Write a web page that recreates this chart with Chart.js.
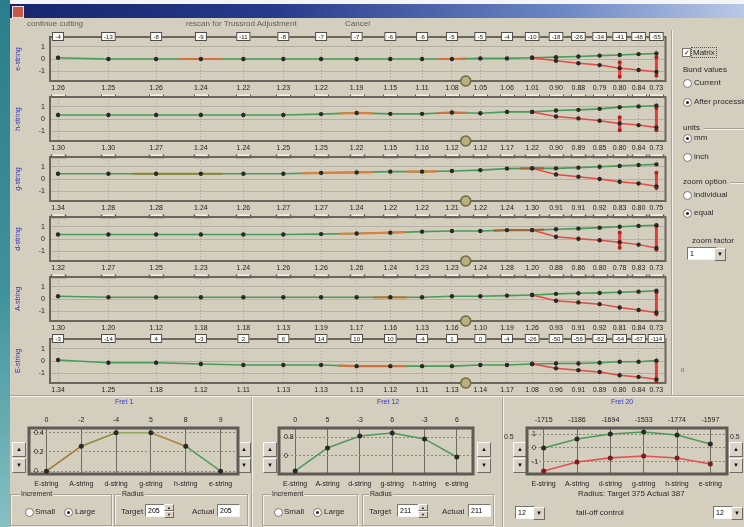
<!DOCTYPE html>
<html>
<head>
<meta charset="utf-8">
<script src="https://cdn.jsdelivr.net/npm/chart.js"></script>
<style>
  body { margin: 0; width: 744px; height: 527px; overflow: hidden; position: relative; background: #d4cebf; font-family: "Liberation Sans", Arial, sans-serif; filter: blur(0.35px); }
  canvas { position: absolute; }
  .t { position: absolute; font-size: 8px; line-height: 9px; color: #2a2a2a; white-space: nowrap; }
  .gris { color: #5e5c56; }
  .azul { color: #3636c8; font-size: 7px; }
  .radio { position: absolute; width: 7px; height: 7px; border-radius: 50%; background: #fff; border: 1px solid #7a766c; }
  .radio.on::after { content: ""; position: absolute; left: 2px; top: 2px; width: 3px; height: 3px; border-radius: 50%; background: #222; }
  .check { position: absolute; width: 7px; height: 7px; background: #fff; border: 1px solid #7a766c; font-size: 7px; line-height: 7px; text-align: center; color: #111; }
  .btn { position: absolute; width: 12px; height: 13px; background: #d9d4c7; border: 1px solid; border-color: #fbfaf6 #6e6a60 #6e6a60 #fbfaf6; font-size: 6px; line-height: 13px; text-align: center; color: #111; }
  .caja { position: absolute; height: 11px; background: #fff; border: 1px solid; border-color: #7a766c #f5f3ee #f5f3ee #7a766c; font-size: 7px; line-height: 11px; padding-left: 2px; box-sizing: content-box; }
  .grupo { position: absolute; border: 1px solid #a7a295; box-shadow: 1px 1px 0 #f4f1ea inset, 1px 1px 0 #f4f1ea; }
  .leyenda { position: absolute; font-size: 7px; line-height: 8px; background: #d4cebf; padding: 0 1px; color: #2a2a2a; }
  .hl { position: absolute; height: 0; border-top: 1px solid #a7a295; border-bottom: 1px solid #f4f1ea; }
  .vl { position: absolute; width: 0; border-left: 1px solid #a7a295; border-right: 1px solid #f4f1ea; }
</style>
</head>
<body>
<!-- marco de ventana -->
<div style="position:absolute;left:0;top:0;width:10px;height:527px;background:linear-gradient(#2a7d8a,#3f929c 55%,#86c0c3)"></div>
<div style="position:absolute;left:10px;top:0;width:734px;height:4px;background:#f3f5f9"></div>
<div style="position:absolute;left:10px;top:4px;width:734px;height:14px;background:linear-gradient(90deg,#16256c,#27398a 35%,#6c86c4 75%,#b9c8e6)"></div>
<div style="position:absolute;left:12px;top:6px;width:10px;height:10px;background:#c8584a;border:1px solid #f0e0d8"></div>

<div class="t gris" style="left:27px;top:19px">continue cutting</div>
<div class="t gris" style="left:186px;top:19px">rescan for Trussrod Adjustment</div>
<div class="t gris" style="left:345px;top:19px">Cancel</div>

<!-- panel derecho -->
<div class="vl" style="left:671px;top:30px;height:365px"></div>
<div class="check" style="left:682px;top:48px">✓</div>
<div class="t" style="left:691px;top:47px;border:1px dotted #555;padding:0 1px">Matrix</div>
<div class="t" style="left:683px;top:65px">Bund values</div>
<div class="radio" style="left:683px;top:79px"></div><div class="t" style="left:694px;top:78px">Current</div>
<div class="radio on" style="left:683px;top:98px"></div><div class="t" style="left:694px;top:97px">After processing</div>
<div class="t" style="left:683px;top:123px">units</div><div class="hl" style="left:704px;top:128px;width:40px"></div>
<div class="radio on" style="left:683px;top:134px"></div><div class="t" style="left:694px;top:133px">mm</div>
<div class="radio" style="left:683px;top:153px"></div><div class="t" style="left:694px;top:152px">inch</div>
<div class="t" style="left:683px;top:177px">zoom option</div><div class="hl" style="left:730px;top:182px;width:14px"></div>
<div class="radio" style="left:683px;top:191px"></div><div class="t" style="left:694px;top:190px">individual</div>
<div class="radio on" style="left:683px;top:209px"></div><div class="t" style="left:694px;top:208px">equal</div>
<div class="t" style="left:692px;top:236px">zoom factor</div>
<div class="caja" style="left:687px;top:247px;width:26px">1</div>
<div class="btn" style="left:714px;top:248px;width:10px;height:11px;line-height:11px">▼</div>
<div class="t gris" style="left:681px;top:366px;font-size:6px">0</div>

<!-- zona inferior -->
<div class="hl" style="left:10px;top:395px;width:734px"></div>
<div class="vl" style="left:251px;top:397px;height:130px"></div>
<div class="vl" style="left:502px;top:397px;height:130px"></div>

<div class="t azul" style="left:115px;top:397px">Fret 1</div>
<div class="t azul" style="left:377px;top:397px">Fret 12</div>
<div class="t azul" style="left:611px;top:397px">Fret 20</div>

<div class="btn" style="left:12px;top:442px">▲</div><div class="btn" style="left:12px;top:458px">▼</div>
<div class="btn" style="left:237px;top:442px">▲</div><div class="btn" style="left:237px;top:458px">▼</div>
<div class="btn" style="left:263px;top:442px">▲</div><div class="btn" style="left:263px;top:458px">▼</div>
<div class="btn" style="left:477px;top:442px">▲</div><div class="btn" style="left:477px;top:458px">▼</div>
<div class="btn" style="left:513px;top:442px">▲</div><div class="btn" style="left:513px;top:458px">▼</div>
<div class="btn" style="left:729px;top:442px">▲</div><div class="btn" style="left:729px;top:458px">▼</div>
<div class="t" style="left:504px;top:432px;font-size:7px">0.5</div>
<div class="t" style="left:730px;top:432px;font-size:7px">0.5</div>

<div class="grupo" style="left:10px;top:494px;width:100px;height:30px"></div>
<div class="leyenda" style="left:20px;top:490px">Increment</div>
<div class="radio" style="left:25px;top:508px"></div><div class="t" style="left:35px;top:507px">Small</div>
<div class="radio on" style="left:64px;top:508px"></div><div class="t" style="left:75px;top:507px">Large</div>
<div class="grupo" style="left:114px;top:494px;width:132px;height:30px"></div>
<div class="leyenda" style="left:121px;top:490px">Radius</div>
<div class="t" style="left:121px;top:507px">Target</div>
<div class="caja" style="left:145px;top:504px;width:16px">205</div>
<div class="btn" style="left:164px;top:504px;width:8px;height:5px;line-height:5px;font-size:4px">▲</div>
<div class="btn" style="left:164px;top:511px;width:8px;height:5px;line-height:5px;font-size:4px">▼</div>
<div class="t" style="left:192px;top:507px">Actual</div>
<div class="caja" style="left:217px;top:504px;width:19px">205</div>

<div class="grupo" style="left:262px;top:494px;width:94px;height:30px"></div>
<div class="leyenda" style="left:271px;top:490px">Increment</div>
<div class="radio" style="left:274px;top:508px"></div><div class="t" style="left:284px;top:507px">Small</div>
<div class="radio on" style="left:313px;top:508px"></div><div class="t" style="left:324px;top:507px">Large</div>
<div class="grupo" style="left:362px;top:494px;width:130px;height:30px"></div>
<div class="leyenda" style="left:369px;top:490px">Radius</div>
<div class="t" style="left:369px;top:507px">Target</div>
<div class="caja" style="left:397px;top:504px;width:18px">211</div>
<div class="btn" style="left:418px;top:504px;width:8px;height:5px;line-height:5px;font-size:4px">▲</div>
<div class="btn" style="left:418px;top:511px;width:8px;height:5px;line-height:5px;font-size:4px">▼</div>
<div class="t" style="left:442px;top:507px">Actual</div>
<div class="caja" style="left:468px;top:504px;width:19px">211</div>

<div class="t" style="left:578px;top:489px">Radius: Target 375  Actual 387</div>
<div class="caja" style="left:515px;top:506px;width:16px">12</div>
<div class="btn" style="left:533px;top:507px;width:10px;height:11px;line-height:11px">▼</div>
<div class="t" style="left:576px;top:508px">fall-off control</div>
<div class="caja" style="left:713px;top:506px;width:16px">12</div>
<div class="btn" style="left:731px;top:507px;width:10px;height:11px;line-height:11px">▼</div>

<canvas id="fret1" width="250" height="92" style="left:0;top:398px;width:250px;height:92px"></canvas>
<canvas id="fret12" width="250" height="92" style="left:250px;top:398px;width:250px;height:92px"></canvas>
<canvas id="fret20" width="244" height="92" style="left:500px;top:398px;width:244px;height:92px"></canvas>

<script>
// Datos
const strings = ["e-string", "h-string", "g-string", "d-string", "A-string", "E-string"];
// posición de los trastes 1..20 (mm desde la cejuela)
const fretPos = [36.5, 70.9, 103.5, 134.1, 163.1, 190.4, 216.2, 240.5, 263.5, 285.2, 305.6, 325.0, 343.2, 360.4, 376.7, 392.0, 406.5, 420.2, 433.1, 445.3];
const thumbPos = 315;

const fretLabels = [
  ["1.26", "1.25", "1.26", "1.24", "1.22", "1.23", "1.22", "1.19", "1.15", "1.11", "1.08", "1.05", "1.06", "1.01", "0.90", "0.88", "0.79", "0.80", "0.84", "0.73"],
  ["1.30", "1.30", "1.27", "1.24", "1.24", "1.25", "1.25", "1.22", "1.15", "1.16", "1.12", "1.12", "1.17", "1.22", "0.90", "0.89", "0.85", "0.80", "0.84", "0.73"],
  ["1.34", "1.28", "1.28", "1.24", "1.26", "1.27", "1.27", "1.24", "1.22", "1.22", "1.21", "1.22", "1.24", "1.30", "0.91", "0.91", "0.92", "0.83", "0.80", "0.75"],
  ["1.32", "1.27", "1.25", "1.23", "1.24", "1.26", "1.26", "1.26", "1.24", "1.23", "1.23", "1.24", "1.28", "1.20", "0.88", "0.86", "0.80", "0.78", "0.83", "0.73"],
  ["1.30", "1.20", "1.12", "1.18", "1.18", "1.13", "1.19", "1.17", "1.16", "1.13", "1.16", "1.10", "1.19", "1.26", "0.93", "0.91", "0.92", "0.81", "0.84", "0.73"],
  ["1.34", "1.25", "1.18", "1.12", "1.11", "1.13", "1.13", "1.13", "1.12", "1.11", "1.13", "1.14", "1.17", "1.08", "0.96", "0.91", "0.89", "0.80", "0.84", "0.73"]
];

// línea verde (todas las posiciones)
const greenDev = [
  [0.1, 0, 0, 0, 0, 0, 0, 0, 0, 0, 0, 0.05, 0.05, 0.1, 0.15, 0.2, 0.28, 0.33, 0.4, 0.45],
  [0.33, 0.33, 0.33, 0.33, 0.33, 0.33, 0.4, 0.5, 0.42, 0.42, 0.53, 0.47, 0.58, 0.58, 0.7, 0.75, 0.83, 0.97, 1.03, 1.08],
  [0.43, 0.43, 0.43, 0.43, 0.43, 0.43, 0.5, 0.54, 0.6, 0.6, 0.65, 0.73, 0.85, 0.87, 0.87, 0.93, 1.0, 1.07, 1.15, 1.2],
  [0.37, 0.37, 0.37, 0.37, 0.37, 0.37, 0.4, 0.45, 0.52, 0.6, 0.65, 0.65, 0.73, 0.73, 0.8, 0.85, 0.93, 1.0, 1.07, 1.12],
  [0.22, 0.14, 0.14, 0.14, 0.14, 0.14, 0.14, 0.14, 0.14, 0.14, 0.22, 0.22, 0.28, 0.33, 0.42, 0.47, 0.5, 0.55, 0.6, 0.67],
  [0.08, -0.14, -0.14, -0.25, -0.33, -0.33, -0.33, -0.42, -0.42, -0.42, -0.42, -0.33, -0.33, -0.25, -0.2, -0.2, -0.14, -0.06, -0.06, 0.03]
];

// línea roja, desde el traste 14 (índice 13)
const redFrom = 13;
const redDev = [
  [0.1, -0.15, -0.35, -0.5, -0.75, -0.9, -1.05],
  [0.58, 0.2, 0.05, -0.14, -0.36, -0.5, -0.7],
  [0.87, 0.37, 0.18, 0, -0.23, -0.37, -0.6],
  [0.73, 0.18, 0.02, -0.1, -0.27, -0.46, -0.73],
  [0.33, -0.14, -0.28, -0.42, -0.7, -0.9, -1.1],
  [-0.25, -0.6, -0.75, -0.9, -1.17, -1.3, -1.5]
];

// barras rojas verticales: [índice, arriba, abajo]
const redBars = [
  [[17, -0.27, -1.46], [19, 0.15, -1.37]],
  [[17, 0.14, -0.92], [19, 0.9, -0.92]],
  [[19, 0.52, -0.73]],
  [[17, 0.54, -0.71], [19, 1.07, -0.88]],
  [[19, 0.55, -1.25]],
  [[19, 0.03, -1.72]]
];

// tramos resaltados de la línea verde: [índice, color]
const highlights = [
  [[3, "#d4703c"], [10, "#d4703c"]],
  [[7, "#d8803e"], [10, "#d4703c"]],
  [[2, "#8a8636"], [3, "#8a8636"], [6, "#d8823e"], [7, "#d8823e"], [9, "#d8823e"], [13, "#9c6a3a"]],
  [[7, "#d8823e"], [8, "#d8823e"], [12, "#9c6a3a"], [13, "#9c6a3a"]],
  [[8, "#b07a3a"]],
  [[7, "#d4703c"], [8, "#d4703c"]]
];

// cajitas de arriba (solo primera y última cuerda)
const topBoxes = [
  ["-4", "-13", "-8", "-9", "-11", "-8", "-7", "-7", "-6", "-6", "-5", "-5", "-4", "-10", "-18", "-26", "-34", "-41", "-48", "-55"],
  [], [], [], [],
  ["-3", "-14", "4", "-3", "2", "6", "14", "10", "10", "-4", "1", "0", "-4", "-26", "-50", "-56", "-62", "-64", "-67", "-114"]
];

const yTicks = [-1, -0.5, 0, 0.5, 1];

// gráficos de abajo
const fretStrings = ["E-string", "A-string", "d-string", "g-string", "h-string", "e-string"];
const fret1Top = ["0", "-2", "-4", "5", "8", "9"];
const fret1Values = [0, 0.26, 0.4, 0.4, 0.26, 0];
const fret1Colors = ["#9c7c36", "#8e8a3c", "#8eaa5e", "#b0843e", "#5a9a5c"];
const fret1Ticks = [0, 0.2, 0.4];
const fret12Top = ["0", "5", "-3", "6", "-3", "6"];
const fret12Values = [-0.63, 0.34, 0.84, 0.97, 0.72, -0.04];
const fret12Ticks = [0, 0.8];
const fret20Top = ["-1715", "-1186", "-1694", "-1533", "-1774", "-1597"];
const fret20Upper = [0, 0.64, 1.0, 1.14, 0.93, 0.29];
const fret20Lower = [-1.64, -1.0, -0.71, -0.57, -0.71, -1.14];
const fret20Ticks = [-1, 0, 1];

Chart.defaults.font.family = "'Liberation Sans', Arial, sans-serif";
Chart.defaults.font.size = 7;
Chart.defaults.color = "#1e1e1e";

const panelTop = [37, 97, 157, 217, 277, 339];

// marco oscuro alrededor del área
const marcoPlugin = {
  id: "marco",
  beforeDatasetsDraw(chart, args, opts) {
    const { ctx, chartArea: a } = chart;
    ctx.save();
    ctx.strokeStyle = opts.color || "#6a665d";
    ctx.lineWidth = opts.width || 2;
    ctx.strokeRect(a.left, a.top, a.right - a.left, a.bottom - a.top);
    ctx.restore();
  }
};

// cajitas con números y corchetes bajo las etiquetas
const cajasPlugin = {
  id: "cajas",
  afterDatasetsDraw(chart, args, opts) {
    const { ctx, chartArea: a, scales: { x } } = chart;
    ctx.save();
    ctx.font = "6px 'Liberation Sans', Arial, sans-serif";
    ctx.textAlign = "center";
    ctx.textBaseline = "middle";
    (opts.top || []).forEach((t, i) => {
      const px = x.getPixelForValue(fretPos[i]);
      const w = Math.max(12, ctx.measureText(t).width + 6);
      ctx.fillStyle = "#fbfaf5";
      ctx.fillRect(px - w / 2, a.top - 5, w, 9);
      ctx.strokeStyle = "#4e4c46";
      ctx.lineWidth = 1;
      ctx.strokeRect(px - w / 2 + 0.5, a.top - 4.5, w - 1, 8);
      ctx.fillStyle = "#222";
      ctx.fillText(t, px, a.top);
    });
    if (opts.brackets) {
      fretPos.forEach(v => {
        const px = Math.round(x.getPixelForValue(v)) + 0.5;
        const y = a.bottom + 13.5;
        ctx.fillStyle = "#f2efe7";
        ctx.fillRect(px - 7, y, 14, 3);
        ctx.strokeStyle = "#5a5850";
        ctx.beginPath();
        ctx.moveTo(px - 7, y);
        ctx.lineTo(px - 7, y + 3);
        ctx.lineTo(px + 7, y + 3);
        ctx.lineTo(px + 7, y);
        ctx.stroke();
      });
    }
    ctx.restore();
  }
};

// números encima de los gráficos de traste
const arribaPlugin = {
  id: "arriba",
  afterDraw(chart, args, opts) {
    const { ctx, chartArea: a, scales: { x } } = chart;
    ctx.save();
    ctx.font = "7px 'Liberation Sans', Arial, sans-serif";
    ctx.fillStyle = "#1e1e1e";
    ctx.textAlign = "center";
    ctx.textBaseline = "middle";
    (opts.labels || []).forEach((t, i) => ctx.fillText(t, x.getPixelForValue(i), a.top - 8));
    ctx.restore();
  }
};

strings.forEach((nombre, p) => {
  const canvas = document.createElement("canvas");
  canvas.width = 662;
  canvas.height = 74;
  canvas.style.cssText = `left:10px;top:${panelTop[p] - 10}px;width:662px;height:74px`;
  document.body.appendChild(canvas);

  const g = greenDev[p];
  const verde = fretPos.map((x, i) => ({ x, y: g[i] }));
  const rojo = redDev[p].map((y, k) => ({ x: fretPos[redFrom + k], y }));

  const datasets = [];
  // botón deslizante
  datasets.push({
    data: [{ x: thumbPos, y: -1.8 }], showLine: false, clip: false,
    pointRadius: 5, pointBackgroundColor: "#b8b07c", pointBorderColor: "#6e6844", pointBorderWidth: 1.5
  });
  // puntos
  datasets.push({
    data: verde.concat(rojo), showLine: false,
    pointRadius: 2.2, pointBackgroundColor: "#2a2a22", pointBorderWidth: 0
  });
  redBars[p].forEach(([i, a, b]) => {
    datasets.push({
      data: [{ x: fretPos[i], y: a }, { x: fretPos[i], y: b }],
      borderColor: "#e23c3c", borderWidth: 3,
      pointRadius: 2, pointBackgroundColor: "#b41e1e", pointBorderWidth: 0
    });
  });
  highlights[p].forEach(([i, color]) => {
    const tramo = [];
    if (i > 0) tramo.push({ x: (fretPos[i - 1] + fretPos[i]) / 2, y: (g[i - 1] + g[i]) / 2 });
    tramo.push({ x: fretPos[i], y: g[i] });
    if (i < fretPos.length - 1) tramo.push({ x: (fretPos[i] + fretPos[i + 1]) / 2, y: (g[i] + g[i + 1]) / 2 });
    datasets.push({ data: tramo, borderColor: color, borderWidth: 2.2, pointRadius: 0 });
  });
  datasets.push({ data: rojo, borderColor: "#e54a46", borderWidth: 1.5, pointRadius: 0 });
  datasets.push({ data: verde, borderColor: "#4a9c5a", borderWidth: 1.6, pointRadius: 0 });

  new Chart(canvas, {
    type: "line",
    data: { datasets },
    options: {
      responsive: false,
      animation: false,
      layout: { padding: { top: 10, right: 4, left: 0, bottom: 0 } },
      scales: {
        x: {
          type: "linear", min: 31, max: 451.5,
          afterBuildTicks: s => { s.ticks = fretPos.map(v => ({ value: v })); },
          afterFit: s => { s.height = 20; },
          ticks: { autoSkip: false, maxRotation: 0, padding: 3, callback: (v, i) => fretLabels[p][i] },
          grid: { color: "#a9a599", drawTicks: false },
          border: { display: false, dash: [1, 2] }
        },
        y: {
          min: -1.8, max: 1.8,
          afterBuildTicks: s => { s.ticks = yTicks.map(v => ({ value: v })); },
          afterFit: s => { s.width = 40; },
          ticks: { padding: 5, callback: v => Number.isInteger(v) ? String(v) : "" },
          grid: { drawTicks: false, color: c => Number.isInteger(c.tick.value) ? "#b5b0a3" : "#c9c4b7" },
          border: { display: false },
          title: { display: true, text: nombre, color: "#3434b8", font: { size: 7 }, padding: { top: 4, bottom: 0 } }
        }
      },
      plugins: {
        legend: { display: false },
        tooltip: { enabled: false },
        marco: {},
        cajas: { top: topBoxes[p], brackets: p < 4 }
      }
    },
    plugins: [marcoPlugin, cajasPlugin]
  });
});

function crearFret(id, topLabels, datasets, yMin, yMax, ticks, padL, padR) {
  new Chart(document.getElementById(id), {
    type: "line",
    data: { labels: fretStrings, datasets },
    options: {
      responsive: false,
      animation: false,
      layout: { padding: { top: 30, left: padL, right: padR, bottom: 0 } },
      scales: {
        x: {
          offset: true,
          afterFit: s => { s.height = 16; },
          ticks: { padding: 6, maxRotation: 0, autoSkip: false },
          grid: { offset: false, color: "#6d6a60", drawTicks: false },
          border: { display: false }
        },
        y: {
          min: yMin, max: yMax,
          afterBuildTicks: s => { s.ticks = ticks.map(v => ({ value: v })); },
          afterFit: s => { s.width = 0; },
          ticks: { mirror: true, padding: 5 },
          grid: { drawTicks: false, color: "#8c887d" },
          border: { display: false, dash: [2, 2] }
        }
      },
      plugins: {
        legend: { display: false },
        tooltip: { enabled: false },
        marco: { width: 3, color: "#5e5b54" },
        arriba: { labels: topLabels }
      }
    },
    plugins: [marcoPlugin, arribaPlugin]
  });
}

crearFret("fret1", fret1Top, [{
  data: fret1Values, borderWidth: 1.6,
  segment: { borderColor: c => fret1Colors[c.p0DataIndex] },
  pointRadius: 2.5, pointBackgroundColor: "#2b2b25", pointBorderWidth: 0
}], -0.03, 0.45, fret1Ticks, 29, 12);

crearFret("fret12", fret12Top, [{
  data: fret12Values, borderColor: "#4f9a5a", borderWidth: 1.6,
  pointRadius: 2.5, pointBackgroundColor: "#2b2b25", pointBorderWidth: 0
}], -0.76, 1.18, fret12Ticks, 29, 27);

crearFret("fret20", fret20Top, [{
  data: fret20Upper, borderColor: "#4c9a58", borderWidth: 1.6,
  pointRadius: 2.5, pointBackgroundColor: "#2b2b25", pointBorderWidth: 0
}, {
  data: fret20Lower, borderColor: "#e25252", borderWidth: 1.6,
  pointRadius: 2.5, pointBackgroundColor: "#7a1e1e", pointBorderWidth: 0
}], -1.86, 1.43, fret20Ticks, 27, 17);
</script>
</body>
</html>
